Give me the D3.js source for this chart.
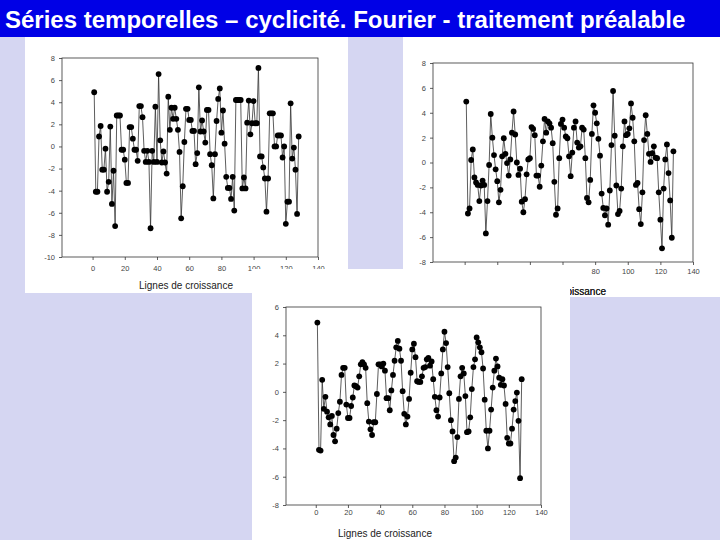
<!DOCTYPE html>
<html><head><meta charset="utf-8">
<script src="https://cdn.jsdelivr.net/npm/d3@7"></script>
<style>body{margin:0;background:#d5d6f2;}svg{display:block;font-family:Arial,"Liberation Sans",sans-serif;}</style>
</head><body>
<script>
const title = "Séries temporelles – cyclicité. Fourier - traitement préalable";
const xLabel = "Lignes de croissance";
const xTicks = [0, 20, 40, 60, 80, 100, 120, 140];
const yTicks1 = [8, 6, 4, 2, 0, -2, -4, -6, -8, -10];
const yTicks2 = [8, 6, 4, 2, 0, -2, -4, -6, -8];
const yTicks3 = [6, 4, 2, 0, -2, -4, -6, -8];

// Panel 1: raw series
const series1 = [4.9,-4.1,-4.1,0.9,1.85,-2.1,-2.1,-0.2,-4.1,-3.2,1.8,-5.2,-2.2,-7.2,2.8,2.8,2.8,-0.3,-0.3,-1.2,
-3.3,-3.3,1.75,1.75,0.7,-0.3,-0.3,-1.3,3.65,3.65,2.65,-0.4,-1.4,-0.4,-1.4,-7.4,-0.4,-1.4,3.6,-1.4,
6.55,0.55,-1.45,-0.45,-1.45,-2.45,4.5,1.5,3.5,2.5,3.5,2.5,1.5,-0.5,-6.5,-3.6,0.4,3.4,3.4,2.4,
2.4,1.4,1.4,-1.6,-0.6,5.35,1.35,2.35,1.35,0.35,3.3,3.3,-0.7,-1.7,-4.7,-0.7,2.3,4.3,5.25,1.25,
3.25,0.25,-2.75,-3.75,-3.75,-4.75,-2.75,-5.8,4.2,4.2,4.2,4.2,-3.8,-2.8,-3.8,2.15,4.15,1.1,2.1,4.1,
2.1,2.1,7.1,-0.9,-0.9,-1.9,-2.9,-5.9,-2.9,3.0,3.0,3.0,0,0,1.0,1.0,1.0,-1.0,0,-7.0,
-5.0,-5.0,3.9,-1.1,-0.1,-2.1,-6.1,0.9];
// Panel 2
const series2 = [4.9,-4.1,-3.7,0.2,1.05,-1.2,-1.6,-1.8,-3.1,-1.85,-1.45,-1.8,-5.7,-3.1,-0.2,3.9,2.0,0.6,-0.55,-1.5,
-3.2,-2.2,0.5,1.95,0.7,-0.05,-1.05,0.25,2.4,4.1,2.25,0.0,-1.0,-0.5,-3.15,-4.0,-2.95,-0.95,0.25,0.35,
2.85,2.7,2.2,-1.05,-1.05,-1.95,-0.25,1.7,3.5,2.4,3.3,3.15,2.8,1.55,-1.55,-4.2,-3.7,0.35,3.1,3.45,
2.8,2.1,1.95,0.5,-1.1,0.8,2.8,3.3,1.6,1.2,1.3,2.8,2.65,0.35,-2.85,-3.2,-1.4,2.3,4.6,4.0,
3.15,1.9,0.55,-2.5,-3.65,-4.25,-3.7,-5.0,-2.25,1.4,5.75,2.15,-1.85,-4.15,-3.9,-2.1,1.3,3.3,2.2,2.3,
2.75,4.75,3.6,1.7,-1.8,-1.65,-3.75,-4.95,-2.4,1.8,3.8,2.3,0.7,0.05,0.75,1.3,0.4,0.35,-2.4,-4.6,
-6.9,-2.1,0.25,1.45,-0.85,-3.05,-6.05,0.9];
// Panel 3
const series3 = [4.9,-4.1,-4.15,0.85,-1.2,-0.35,-1.4,-1.8,-2.3,-1.7,-3.05,-3.5,-2.6,-1.5,-0.7,1.2,1.7,1.7,-0.9,-1.85,
-1.85,-1.0,-0.4,0.45,0.4,0.3,1.1,1.95,2.1,1.95,1.7,-0.8,-2.1,-2.65,-3.05,-2.15,-2.15,-0.15,1.95,1.95,
1.8,2.0,1.5,-0.45,-0.45,-1.3,0.1,1.2,2.2,3.15,3.6,3.05,2.2,0.05,-1.55,-2.3,-1.75,-0.5,1.35,3.0,
3.4,2.45,0.75,0.7,0.7,1.1,1.7,1.75,2.3,2.4,1.85,2.15,0.9,-0.35,-1.3,-1.75,-0.4,1.3,3.0,4.25,
3.45,1.75,-0.1,-2.0,-2.8,-4.9,-4.65,-3.2,-0.5,1.1,1.7,1.3,-0.3,-2.85,-2.8,-1.8,0.2,1.75,2.3,3.85,
3.5,3.15,2.8,1.65,-0.55,-2.75,-4.0,-2.75,-1.25,0.3,1.5,2.35,1.8,1.0,0.5,0.9,0.45,-0.85,-3.25,-3.65,
-3.65,-2.6,-1.25,-0.65,-0.05,-2.05,-6.1,0.9];

const W = 720, H = 540;
const svg = d3.select("body").append("svg").attr("width", W).attr("height", H);
const bg = "#d5d6f2";
svg.append("rect").attr("width", W).attr("height", H).attr("fill", bg);

// white sheets
svg.append("rect").attr("x", 403).attr("y", 37).attr("width", 317).attr("height", 260).attr("fill", "#fff");
svg.append("rect").attr("x", 25).attr("y", 37).attr("width", 323).attr("height", 256).attr("fill", "#fff");

function panel(cfg) {
  const g = svg.append("g");
  const x = d3.scaleLinear().domain(cfg.xDomain).range([cfg.left, cfg.right]);
  const y = d3.scaleLinear().domain(cfg.yDomain).range([cfg.bottom, cfg.top]);
  g.append("rect").attr("x", cfg.left).attr("y", cfg.top)
    .attr("width", cfg.right - cfg.left).attr("height", cfg.bottom - cfg.top)
    .attr("fill", "none").attr("stroke", "#333").attr("stroke-width", 0.8);
  const xa = g.append("g").attr("transform", `translate(0,${cfg.bottom})`)
    .call(d3.axisBottom(x).tickValues(cfg.xTicks).tickSize(3).tickPadding(cfg.xPad).tickSizeOuter(0));
  const ya = g.append("g").attr("transform", `translate(${cfg.left},0)`)
    .call(d3.axisLeft(y).tickValues(cfg.yTicks).tickSize(3).tickPadding(4).tickSizeOuter(0)
      .tickFormat(d => d < 0 ? "-" + Math.abs(d) : d));
  [xa, ya].forEach(a => {
    a.select(".domain").remove();
    a.selectAll("line").attr("stroke", "#333").attr("stroke-width", 0.8);
    a.selectAll("text").attr("fill", "#444").style("font-size", "7.5px").style("font-family", "Arial, 'Liberation Sans', sans-serif");
  });
  if (cfg.hideXLabels) xa.selectAll("text").filter(d => cfg.hideXLabels.includes(d)).remove();
  const pts = cfg.data.map((v, i) => [i + 1, v]);
  g.append("path").datum(pts).attr("fill", "none").attr("stroke", "#333").attr("stroke-width", 0.8)
    .attr("d", d3.line().x(d => x(d[0])).y(d => y(d[1])));
  g.selectAll("circle").data(pts).join("circle")
    .attr("cx", d => x(d[0])).attr("cy", d => y(d[1])).attr("r", 2.9).attr("fill", "#000");
  g.append("text").attr("x", cfg.labelX).attr("y", cfg.labelY).attr("text-anchor", "middle")
    .attr("fill", "#222").style("font-size", "10px").text(xLabel);
}

panel({data: series2, left: 433, right: 693, top: 63, bottom: 262,
  xDomain: [-19.4, 140], yDomain: [-8, 8], xTicks, yTicks: yTicks2, xPad: 4,
  labelX: 559, labelY: 295, hideXLabels: [0, 20, 40, 60]});

panel({data: series1, left: 62, right: 318, top: 58, bottom: 257,
  xDomain: [-19, 140], yDomain: [-10, 8], xTicks, yTicks: yTicks1, xPad: 6,
  labelX: 186, labelY: 289});

// lower sheet covering part of panel 2
svg.append("rect").attr("x", 252).attr("y", 269).attr("width", 318).attr("height", 271).attr("fill", "#fff");
panel({data: series3, left: 286, right: 541, top: 307, bottom: 505,
  xDomain: [-18.5, 140], yDomain: [-8, 6], xTicks, yTicks: yTicks3, xPad: 2,
  labelX: 385, labelY: 537});

// visible tail of panel 2 label (right of the lower sheet)
svg.append("clipPath").attr("id", "clip2").append("rect").attr("x", 570).attr("y", 280).attr("width", 150).attr("height", 20);
svg.append("text").attr("x", 559).attr("y", 295).attr("text-anchor", "middle").attr("clip-path", "url(#clip2)")
  .attr("fill", "#222").style("font-size", "10px").text(xLabel);

// title bar
svg.append("rect").attr("x", 0).attr("y", 0).attr("width", W).attr("height", 37).attr("fill", "#0000e6");
svg.append("text").attr("x", 5).attr("y", 28).attr("fill", "#fff")
  .style("font-size", "24px").style("font-weight", "bold").text(title);
</script>
</body></html>
